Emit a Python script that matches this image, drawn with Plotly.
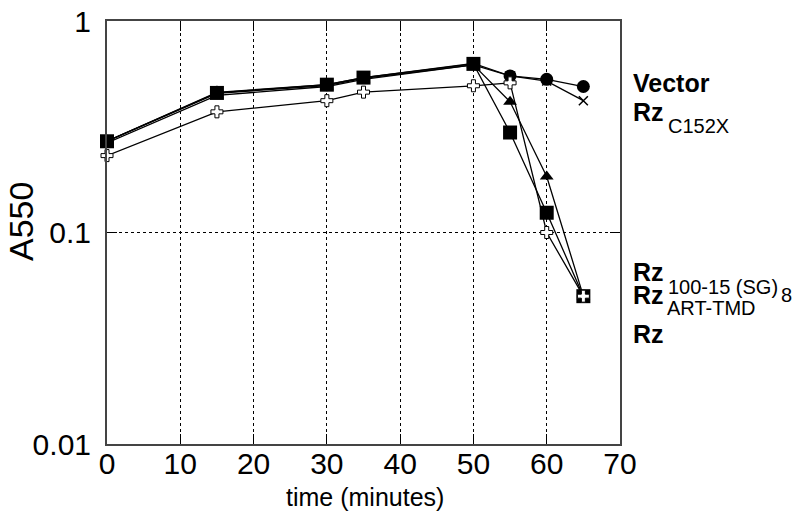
import plotly.graph_objects as go

times = [0, 15, 30, 35, 50, 55, 60, 65]
vector = [0.27, 0.46, 0.50, 0.54, 0.63, 0.55, 0.53, 0.49]
rz_c152x = [0.27, 0.455, 0.495, 0.535, 0.62, 0.55, 0.52, 0.42]
rz_sg8 = [0.265, 0.445, 0.49, 0.53, 0.62, 0.415, 0.184, 0.05]
rz_art_tmd = [0.27, 0.457, 0.50, 0.54, 0.627, 0.297, 0.124, 0.05]
rz = [0.231, 0.372, 0.42, 0.461, 0.494, 0.51, 0.10, 0.05]

x_ticks = [0, 10, 20, 30, 40, 50, 60, 70]
y_ticks = [0.01, 0.1, 1]
y_tick_labels = ["0.01", "0.1", "1"]

W, H = 797, 518
PL, PR, PT, PB = 107, 620, 21, 444  # plot area in window pixels
L, R, T, B = PL, W - PR, PT, H - PB
FONT = "Liberation Sans, Arial, sans-serif"

fig = go.Figure()

def add(y, symbol, size, fill="black", lw=0, lc="black"):
    fig.add_trace(go.Scatter(
        x=times, y=y, mode="lines+markers",
        line=dict(color="black", width=1.3),
        marker=dict(symbol=symbol, size=size, color=fill,
                    line=dict(width=lw, color=lc)),
        cliponaxis=False, showlegend=False))

add(vector, "circle", 13)
add(rz_c152x, "x-thin", 9, lw=1.5)
add(rz_sg8, "triangle-up", 12)
add(rz_art_tmd, "square", 14)
add(rz, "cross", 10, fill="white", lw=1)

def px(xp):
    return (xp - PL) / (PR - PL)

def py(yp):
    return (PB - yp) / (PB - PT)

def label(text, xp, yp, size, bold=False):
    fig.add_annotation(
        text=f"<b>{text}</b>" if bold else text,
        x=px(xp), y=py(yp), xref="paper", yref="paper",
        xanchor="left", yanchor="middle", showarrow=False, borderpad=0,
        font=dict(family=FONT, size=size, color="black"))

label("Vector", 632, 83, 25, True)
label("Rz", 632, 112, 25, True)
label("C152X", 667, 126, 20)
label("Rz", 632, 272, 25, True)
label("100-15 (SG)", 667, 287, 20)
label("8", 780, 295, 20)
label("Rz", 632, 295, 25, True)
label("ART-TMD", 666, 308, 20)
label("Rz", 632, 334, 25, True)

fig.add_annotation(
    text="A550", x=px(21), y=py(222), xref="paper", yref="paper",
    xanchor="center", yanchor="middle", showarrow=False, textangle=-90,
    font=dict(family=FONT, size=34, color="black"))

fig.add_annotation(
    text="time (minutes)", x=px(365), y=py(497), xref="paper", yref="paper",
    xanchor="center", yanchor="middle", showarrow=False,
    font=dict(family=FONT, size=25, color="black"))

axis_common = dict(
    showline=True, linecolor="#444444", linewidth=2, mirror="ticks",
    ticks="inside", ticklen=10, tickcolor="black", tickwidth=1,
    showgrid=True, gridcolor="black", gridwidth=1, griddash="dot",
    zeroline=False, tickfont=dict(family=FONT, size=30, color="black"),
)

fig.update_xaxes(range=[0, 70], tickvals=x_ticks, ticklabelstandoff=-8, **axis_common)
fig.update_yaxes(type="log", range=[-2, 0], tickvals=y_ticks, ticktext=y_tick_labels,
                 ticklabelstandoff=8, **axis_common)

fig.update_layout(
    width=W, height=H, margin=dict(l=L, r=R, t=T, b=B, autoexpand=False),
    plot_bgcolor="white", paper_bgcolor="white",
    font=dict(family=FONT, color="black"),
)

fig.write_html("out.html", config={"displayModeBar": False},
               post_script="document.body.style.margin='0px';")
